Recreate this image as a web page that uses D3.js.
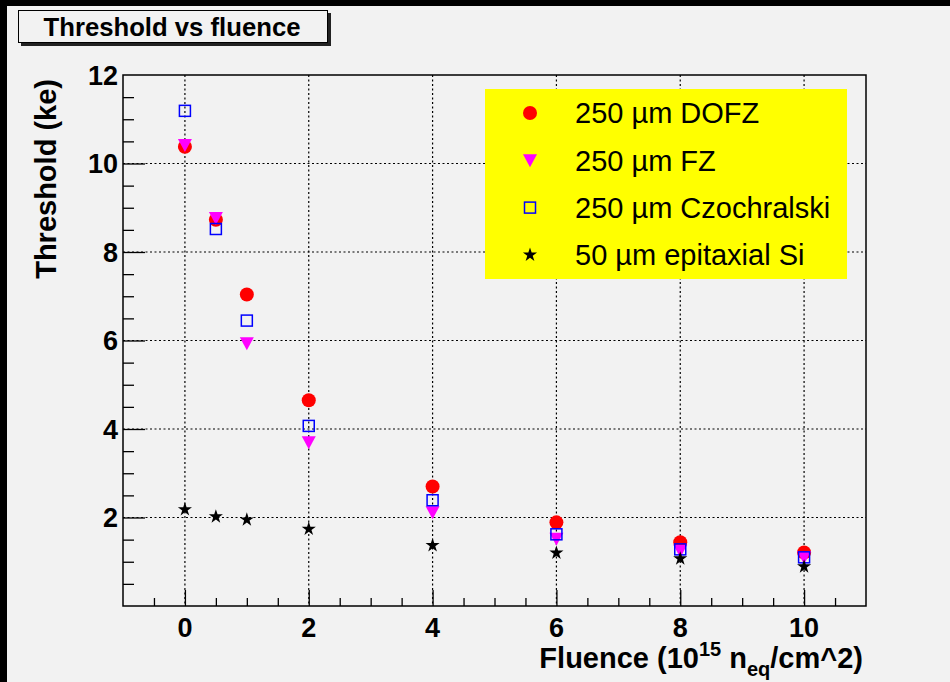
<!DOCTYPE html>
<html>
<head>
<meta charset="utf-8">
<script src="https://cdn.jsdelivr.net/npm/d3@7"></script>
<style>
  body { margin: 0; background: #000; }
  svg { display: block; font-family: "Liberation Sans", Arial, sans-serif; }
</style>
</head>
<body>
<svg width="950" height="682"></svg>
<script>
const fluence = [0, 0.5, 1, 2, 4, 6, 8, 10];
const dofz = [10.38, 8.73, 7.04, 4.65, 2.70, 1.89, 1.44, 1.21];
const fz = [10.42, 8.77, 5.94, 3.70, 2.12, 1.52, 1.25, 1.10];
const czochralski = [11.19, 8.52, 6.45, 4.07, 2.39, 1.62, 1.28, 1.10];
const epitaxial = [2.18, 2.02, 1.95, 1.74, 1.37, 1.20, 1.07, 0.89];
const legendLabels = ["250 \u00b5m DOFZ", "250 \u00b5m FZ", "250 \u00b5m Czochralski", "50 \u00b5m epitaxial Si"];
const xTicks = [0, 2, 4, 6, 8, 10];
const yTicks = [2, 4, 6, 8, 10, 12];

const svg = d3.select("svg");
const width = +svg.attr("width");
const height = +svg.attr("height");

// canvas: black edge on left/top, grey pad
svg.append("rect").attr("width", width).attr("height", height).attr("fill", "#000");
svg.append("rect").attr("x", 7).attr("y", 6).attr("width", width - 7).attr("height", height - 6).attr("fill", "#f2f2f2");

const pLeft = 123, pRight = 866, pTop = 75, pBottom = 606;
const x = d3.scaleLinear().domain([-1, 11]).range([pLeft, pRight]);
const y = d3.scaleLinear().domain([0, 12]).range([pBottom, pTop]);

// grid (dotted)
const grid = svg.append("g").attr("stroke", "#000").attr("stroke-width", 1.2).attr("stroke-dasharray", "2,2.5");
grid.selectAll("line.gx").data(xTicks).join("line").attr("class", "gx")
  .attr("x1", d => x(d)).attr("x2", d => x(d)).attr("y1", pTop).attr("y2", pBottom);
grid.selectAll("line.gy").data(yTicks.filter(d => d < 12)).join("line").attr("class", "gy")
  .attr("x1", pLeft).attr("x2", pRight).attr("y1", d => y(d)).attr("y2", d => y(d));

// frame
svg.append("rect").attr("x", pLeft).attr("y", pTop).attr("width", pRight - pLeft).attr("height", pBottom - pTop)
  .attr("fill", "none").attr("stroke", "#000").attr("stroke-width", 1.5);

// y axis: ticks inward
const yAxis = d3.axisRight(y).tickValues(d3.range(0.5, 12, 0.5)).tickSize(11).tickFormat("");
const gy = svg.append("g").attr("transform", `translate(${pLeft},0)`).call(yAxis);
gy.select(".domain").remove();
gy.selectAll(".tick line").attr("stroke", "#000").attr("stroke-width", 1.3)
  .attr("x2", d => (d % 2 === 0 ? 22 : 11));
svg.append("g").selectAll("text").data(yTicks).join("text")
  .attr("x", pLeft - 5).attr("y", d => y(d)).attr("dy", "0.36em")
  .attr("text-anchor", "end").attr("font-size", 27).attr("font-weight", "bold")
  .text(d => d);

// x axis: ticks inward
const xAxis = d3.axisTop(x).tickValues(d3.range(-0.5, 11, 0.5)).tickSize(8).tickFormat("");
const gx = svg.append("g").attr("transform", `translate(0,${pBottom})`).call(xAxis);
gx.select(".domain").remove();
gx.selectAll(".tick line").attr("stroke", "#000").attr("stroke-width", 1.3)
  .attr("y2", d => (d % 2 === 0 ? -16 : -8));
svg.append("g").selectAll("text").data(xTicks).join("text")
  .attr("x", d => x(d)).attr("y", 637)
  .attr("text-anchor", "middle").attr("font-size", 27).attr("font-weight", "bold")
  .text(d => d);

// axis titles
const xt = svg.append("text").attr("x", 863).attr("y", 668).attr("text-anchor", "end")
  .attr("font-size", 29).attr("font-weight", "bold");
xt.append("tspan").text("Fluence (10");
xt.append("tspan").attr("font-size", 20).attr("dy", -12).text("15");
xt.append("tspan").attr("dy", 12).text(" n");
xt.append("tspan").attr("font-size", 20).attr("dy", 8).text("eq");
xt.append("tspan").attr("dy", -8).text("/cm^2)");

svg.append("text").attr("transform", "translate(56,79) rotate(-90)")
  .attr("text-anchor", "end").attr("font-size", 29).attr("font-weight", "bold")
  .text("Threshold (ke)");

// title box
svg.append("rect").attr("x", 21).attr("y", 13).attr("width", 310).attr("height", 33).attr("fill", "#222");
svg.append("rect").attr("x", 18.5).attr("y", 10.5).attr("width", 309).attr("height", 32)
  .attr("fill", "#f2f2f2").attr("stroke", "#000").attr("stroke-width", 1);
svg.append("text").attr("x", 172).attr("y", 36).attr("text-anchor", "middle")
  .attr("font-size", 25.7).attr("font-weight", "bold").text("Threshold vs fluence");

// markers
const invTri = "M-7,-6L7,-6L0,7Z";
const star = d3.symbol().type(d3.symbolStar).size(62)();

const drawCircle = (g, cx, cy) => g.append("circle").attr("cx", cx).attr("cy", cy).attr("r", 7).attr("fill", "#ff0000");
const drawTri = (g, cx, cy) => g.append("path").attr("d", invTri).attr("transform", `translate(${cx},${cy})`).attr("fill", "#ff00ff");
const drawSq = (g, cx, cy) => g.append("rect").attr("x", cx - 5.5).attr("y", cy - 5.5).attr("width", 11).attr("height", 11)
  .attr("fill", "none").attr("stroke", "#0000ff").attr("stroke-width", 1.5);
const drawStar = (g, cx, cy) => g.append("path").attr("d", star).attr("transform", `translate(${cx},${cy})`).attr("fill", "#000");

const series = [
  { values: dofz, draw: drawCircle },
  { values: fz, draw: drawTri },
  { values: czochralski, draw: drawSq },
  { values: epitaxial, draw: drawStar },
];

const points = svg.append("g");
series.forEach(s => {
  s.values.forEach((v, i) => s.draw(points, x(fluence[i]), y(v)));
});

// legend
const legend = svg.append("g");
legend.append("rect").attr("x", 485).attr("y", 89).attr("width", 362).attr("height", 190).attr("fill", "#ffff00");
legendLabels.forEach((lab, i) => {
  const ly = 113 + i * 47.3;
  series[i].draw(legend, 530, ly);
  legend.append("text").attr("x", 575).attr("y", ly).attr("dy", "0.36em")
    .attr("font-size", 29).text(lab);
});
</script>
</body>
</html>
